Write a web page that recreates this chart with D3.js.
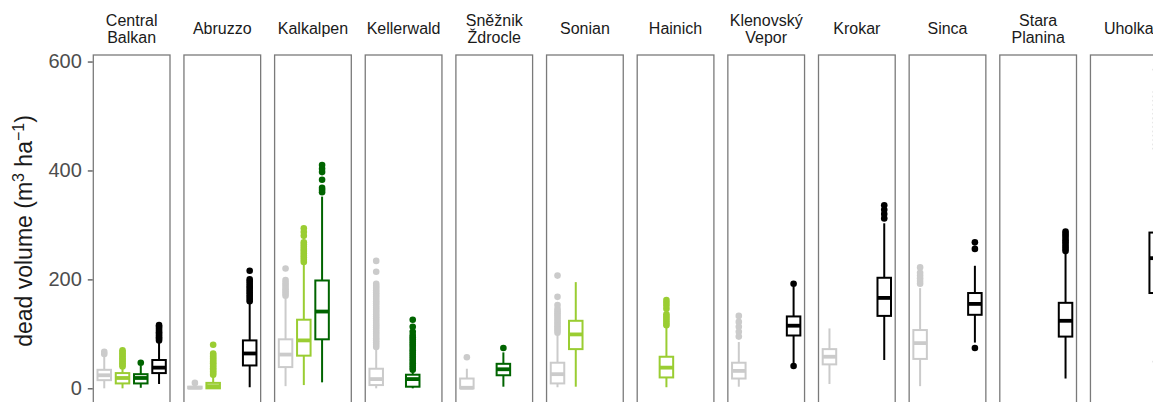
<!DOCTYPE html>
<html>
<head>
<meta charset="utf-8">
<script src="https://cdn.jsdelivr.net/npm/d3@7"></script>
<style>
  html, body { margin: 0; padding: 0; background: #ffffff; }
  svg { display: block; font-family: "Liberation Sans", Arial, sans-serif; }
</style>
</head>
<body>
<svg id="chart" width="1153" height="402"></svg>
<script>
// ---------------- data ----------------
const sites = ["Central Balkan", "Abruzzo", "Kalkalpen", "Kellerwald", "Sněžnik Ždrocle", "Sonian",
               "Hainich", "Klenovský Vepor", "Krokar", "Sinca", "Stara Planina", "Uholka"];
const siteLabels = [["Central", "Balkan"], ["Abruzzo"], ["Kalkalpen"], ["Kellerwald"], ["Sněžnik", "Ždrocle"],
                    ["Sonian"], ["Hainich"], ["Klenovský", "Vepor"], ["Krokar"], ["Sinca"], ["Stara", "Planina"], ["Uholka"]];
const groups = ["A", "B", "C", "D"];
const groupColors = ["#cbcbcb", "#9acd32", "#006400", "#000000"];
const yTicks = [0, 200, 400, 600];

// one entry per box
const boxSite  = [0, 0, 0, 0, 1, 1, 1, 2, 2, 2, 3, 3, 4, 4, 5, 5, 6, 7, 7, 8, 8, 9, 9, 10, 11];
const boxGroup = [0, 1, 2, 3, 0, 1, 3, 0, 1, 2, 0, 2, 0, 2, 0, 1, 1, 0, 3, 0, 3, 0, 3, 3, 3];
const whiskerLow  = [0, 0, 1, 8, 0, 0, 2, 4, 6, 11, 0, 0, 0, 3, 2, 3, 2, 3, 46, 8, 52, 4, 84, 18, 60];
const q1          = [15, 9, 9, 28, 0, 0, 42, 39, 60, 90, 6, 3, 0, 24, 9, 72, 20, 18, 97, 44, 133, 54, 135, 95, 175];
const median      = [24, 19, 19, 38, 1, 4, 64, 62, 88, 141, 17, 17, 1, 35, 26, 99, 38, 32, 115, 58, 166, 83, 155, 124, 239];
const q3          = [34, 28, 26, 52, 3, 10, 88, 90, 126, 198, 36, 25, 18, 45, 47, 124, 58, 47, 132, 72, 203, 107, 175, 157, 286];
const whiskerHigh = [58, 36, 42, 84, 6, 22, 155, 165, 228, 352, 72, 30, 36, 66, 98, 195, 112, 85, 187, 110, 303, 184, 225, 247, 430];
const outliers = [
  [63, 67],
  [40, 43, 46, 49, 52, 55, 58, 61, 64, 67, 70],
  [47],
  [88, 91, 94, 97, 100, 103, 106, 110, 113, 116],
  [10],
  [25, 28, 31, 34, 37, 40, 43, 46, 49, 52, 55, 58, 61, 64, 80],
  [160, 164, 168, 172, 176, 180, 184, 188, 192, 196, 200, 216],
  [170, 174, 178, 182, 186, 190, 194, 199, 220],
  [232, 236, 240, 244, 248, 252, 256, 260, 264, 268, 280, 287, 294],
  [360, 364, 368, 383, 397, 403, 410],
  [76, 80, 84, 88, 92, 96, 100, 104, 108, 112, 116, 120, 124, 128, 132, 136, 140, 144, 148, 152, 156, 160, 164, 168, 172, 176, 180, 184, 188, 192, 214, 234],
  [34, 38, 42, 46, 50, 54, 58, 62, 66, 70, 74, 78, 82, 86, 90, 94, 98, 104, 113, 126],
  [57],
  [74],
  [102, 106, 110, 114, 118, 122, 126, 130, 134, 138, 142, 146, 153, 168, 207],
  [],
  [116, 120, 124, 128, 132, 136, 146, 152, 157, 162],
  [95, 104, 113, 122, 133],
  [41, 192],
  [],
  [312, 320, 328, 336],
  [192, 197, 202, 207, 212, 222],
  [74, 256, 268],
  [252, 256, 260, 264, 268, 272, 276, 280, 284, 288],
  [49, 440, 448, 456, 464, 472, 480, 488, 496, 504, 512, 520, 528, 536, 544, 585]
];

// ---------------- layout ----------------
const svg = d3.select("#chart");
svg.append("rect").attr("width", 1153).attr("height", 402).attr("fill", "#ffffff");

const panelTop = 55, panelBottom = 405;
const panelW = 76.7;
const panelStep = 90.65;
const xPanel = d3.scaleBand()
  .domain(sites)
  .range([93.3, 93.3 + 11 * panelStep + panelW])
  .paddingInner((panelStep - panelW) / panelStep)
  .paddingOuter(0);

const xInner = d3.scalePoint().domain(groups).range([0, xPanel.bandwidth()]).padding(0.6);
const unit = xInner.step();
const boxW = unit * 0.74;

const y = d3.scaleLinear().domain([-30.6, 612]).range([panelBottom, panelTop]);

// y axis
const yAxis = d3.axisLeft(y).tickValues(yTicks).tickSize(5).tickPadding(6);
const gy = svg.append("g").attr("transform", `translate(${xPanel(sites[0]) - 0.5},0)`).call(yAxis);
gy.select(".domain").remove();
gy.selectAll(".tick line").attr("stroke", "#333333").attr("stroke-width", 1.1);
gy.selectAll(".tick text").attr("fill", "#4d4d4d").attr("font-size", 20)
  .attr("font-family", "Liberation Sans, Arial, sans-serif");

// y axis title
const title = svg.append("text")
  .attr("transform", "translate(32,231) rotate(-90)")
  .attr("text-anchor", "middle")
  .attr("font-size", 23)
  .attr("fill", "#1a1a1a");
title.append("tspan").text("dead volume (m");
title.append("tspan").attr("font-size", 16).attr("dy", -8).text("3");
title.append("tspan").attr("dy", 8).text(" ha");
title.append("tspan").attr("font-size", 16).attr("dy", -8).text("−1");
title.append("tspan").attr("dy", 8).text(")");

// panels + strip labels
sites.forEach((s, i) => {
  const px = xPanel(s);
  svg.append("rect")
    .attr("x", px).attr("y", panelTop)
    .attr("width", xPanel.bandwidth()).attr("height", panelBottom - panelTop)
    .attr("fill", "none").attr("stroke", "#7a7a7a").attr("stroke-width", 1.3);
  const lines = siteLabels[i];
  const cx = px + xPanel.bandwidth() / 2;
  const t = svg.append("text").attr("text-anchor", "middle").attr("font-size", 16).attr("fill", "#1a1a1a");
  if (lines.length === 1) {
    t.append("tspan").attr("x", cx).attr("y", 34.3).text(lines[0]);
  } else {
    t.append("tspan").attr("x", cx).attr("y", 26).text(lines[0]);
    t.append("tspan").attr("x", cx).attr("y", 42.7).text(lines[1]);
  }
});

// boxes
const boxes = boxSite.map((s, i) => ({
  site: sites[s], group: groups[boxGroup[i]], color: groupColors[boxGroup[i]],
  lo: whiskerLow[i], q1: q1[i], med: median[i], q3: q3[i], hi: whiskerHigh[i], out: outliers[i]
}));

const gb = svg.append("g");
boxes.forEach(b => {
  const cx = xPanel(b.site) + xInner(b.group);
  const g = gb.append("g");
  g.append("line").attr("x1", cx).attr("x2", cx).attr("y1", y(b.lo)).attr("y2", y(b.q1))
    .attr("stroke", b.color).attr("stroke-width", 2);
  g.append("line").attr("x1", cx).attr("x2", cx).attr("y1", y(b.q3)).attr("y2", y(b.hi))
    .attr("stroke", b.color).attr("stroke-width", 2);
  g.append("rect")
    .attr("x", cx - boxW / 2).attr("y", y(b.q3))
    .attr("width", boxW).attr("height", Math.max(0, y(b.q1) - y(b.q3)))
    .attr("fill", "#ffffff").attr("stroke", b.color).attr("stroke-width", 2);
  g.append("line").attr("x1", cx - boxW / 2).attr("x2", cx + boxW / 2)
    .attr("y1", y(b.med)).attr("y2", y(b.med))
    .attr("stroke", b.color).attr("stroke-width", 3.8);
  g.selectAll("circle").data(b.out).join("circle")
    .attr("cx", cx).attr("cy", d => y(d)).attr("r", 3.3).attr("fill", b.color);
});
</script>
</body>
</html>
